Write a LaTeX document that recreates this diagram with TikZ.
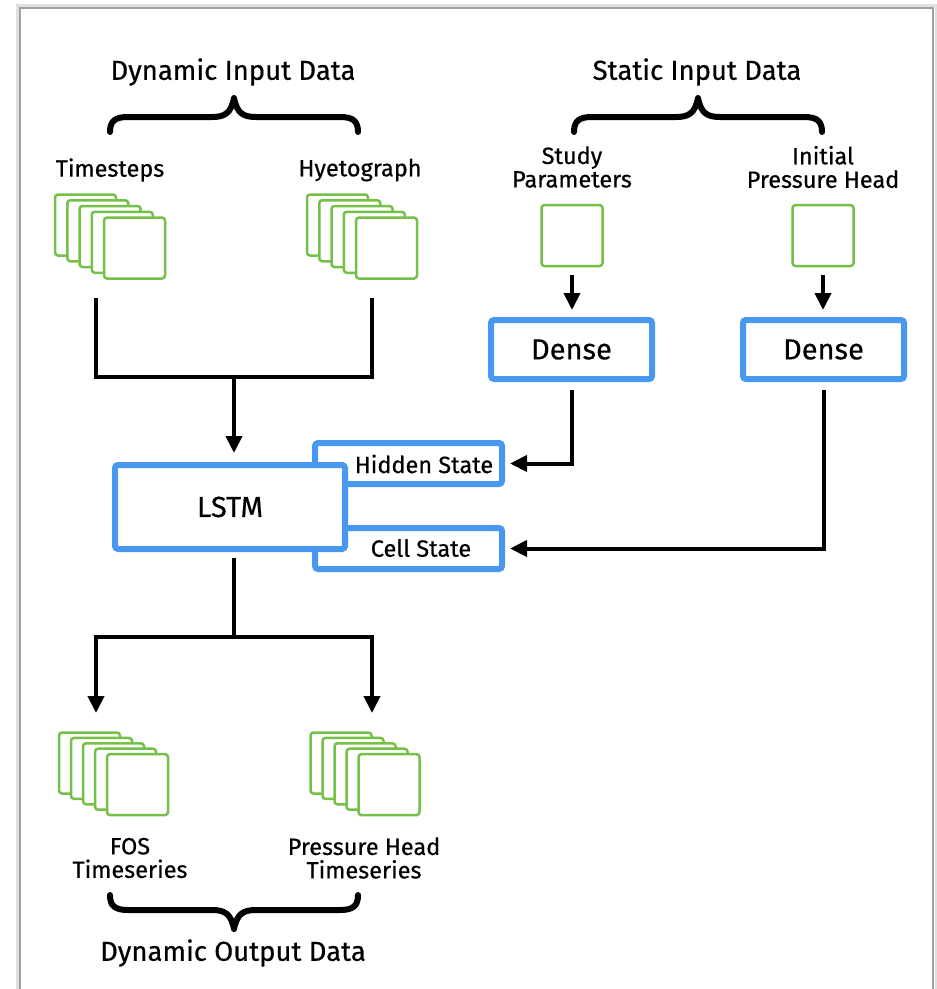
\documentclass[tikz,border=0pt]{standalone}
\usepackage{fontspec}
\setmainfont{Fira Sans}[FakeBold=0.5]
\usetikzlibrary{arrows.meta,calc}

\definecolor{boxblue}{RGB}{72,152,240}
\definecolor{stackgreen}{RGB}{116,192,72}
\definecolor{framegray}{RGB}{160,160,160}

\tikzset{
  bluebox/.style={draw=boxblue, line width=6pt, fill=white, rounded corners=3pt,
    inner sep=0pt, outer sep=0pt},
  greensq/.style={draw=stackgreen, line width=2.5pt, fill=white, rounded corners=3pt,
    minimum width=61pt, minimum height=61pt, inner sep=0pt, outer sep=0pt},
  flow/.style={line width=4pt, black},
  arr/.style={flow, -{Triangle[width=16pt,length=17pt]}},
  bracestroke/.style={line width=6pt, line cap=round, line join=round},
  lbl/.style={font=\fontsize{23.5}{23.5}\selectfont, inner sep=0pt, align=center},
  statelbl/.style={font=\fontsize{23.5}{23.5}\selectfont, inner sep=0pt},
  boxlbl/.style={font=\fontsize{29}{29}\selectfont, inner sep=0pt},
  head/.style={font=\fontsize{27.5}{27.5}\selectfont, inner sep=0pt},
  pics/curlybrace/.style={code={
    \draw[bracestroke] (-124,15) .. controls (-124,4) and (-119,0) .. (-106,0)
      -- (-22,0) .. controls (-9,0) and (-3,-4) .. (0,-19)
      .. controls (3,-4) and (9,0) .. (22,0)
      -- (106,0) .. controls (119,0) and (124,4) .. (124,15);
  }}
}

% stack of five overlapping sheets: name, first centre x, first centre y, step x, step y
\newcommand{\sheetstack}[5]{%
  \foreach \i in {0,...,4}{%
    \node[greensq] (#1-\i) at ({#2+\i*#4},{#3+\i*#5}) {};
  }%
}

\begin{document}
\begin{tikzpicture}[x=1pt,y=-1pt]
\useasboundingbox (0,0) rectangle (937,989);

% page frame
\draw[black!12, line width=3pt] (17,5) rectangle (936,995);
\draw[framegray, line width=1.4pt] (20,8) rectangle (933,992);

% input headers and braces
\node[head] (dynin) at (233,72) {Dynamic Input Data};
\node[head] (statin) at (697,72) {Static Input Data};
\pic at (234,117) {curlybrace};
\pic at (698,117) {curlybrace};

% dynamic inputs
\node[lbl] (tslbl) at (110,170) {Timesteps};
\node[lbl] (hylbl) at (360,170) {Hyetograph};
\sheetstack{ts}{85.5}{225}{12.25}{5.75}
\sheetstack{hy}{337.5}{225}{12.25}{5.75}

% static inputs
\node[lbl] (splbl) at (572,167) {Study\\Parameters};
\node[lbl] (iplbl) at (823,167) {Initial\\Pressure Head};
\node[greensq] (sp) at (572,235.5) {};
\node[greensq] (ip) at (823,235.5) {};

% dense layers
\node[bluebox, minimum width=161pt, minimum height=59pt] (d1) at (571.5,349.5) {};
\node[boxlbl] at (d1.center) {Dense};
\node[bluebox, minimum width=161pt, minimum height=59pt] (d2) at (823.5,349.5) {};
\node[boxlbl] at (d2.center) {Dense};

% LSTM with its state inputs
\node[bluebox, minimum width=187pt, minimum height=41pt] (hid) at (408.5,463.5) {};
\node[bluebox, minimum width=187pt, minimum height=41pt] (cell) at (408.5,548.5) {};
\node[statelbl] (hidlbl) at (424,464) {Hidden State};
\node[statelbl] (celllbl) at (421,548) {Cell State};
\node[bluebox, minimum width=230pt, minimum height=84pt] (lstm) at (230,507) {};
\node[boxlbl] (lstmlbl) at (lstm.center) {LSTM};

% dynamic outputs
\sheetstack{fos}{89.5}{763}{12}{5.4}
\sheetstack{ph}{341}{763}{12}{5.4}
\node[lbl] (foslbl) at (130,858) {FOS\\Timeseries};
\node[lbl] (phlbl) at (364,858) {Pressure Head\\Timeseries};
\pic[yscale=-1] at (234,910) {curlybrace};
\node[head] (dynout) at (233,953) {Dynamic Output Data};

% connectors
\coordinate (tsout) at (96,298);
\coordinate (hyout) at (372,298);
\coordinate (inmerge) at (234,377);
\draw[flow] (tsout) |- (inmerge) -| (hyout);
\draw[arr, shorten >=12pt] (inmerge) -- (inmerge |- lstm.north);

\draw[arr, shorten <=9pt, shorten >=10pt] (sp.south) -- (d1.north -| sp.south);
\draw[arr, shorten <=9pt, shorten >=10pt] (ip.south) -- (d2.north -| ip.south);

\draw[arr, shorten <=11pt, shorten >=8pt] (d1.south) |- (hid.east);
\draw[arr, shorten <=11pt, shorten >=8pt] (d2.south) |- (cell.east);

\coordinate (outmerge) at (234,637);
\coordinate (fosin) at (96,713);
\coordinate (phin) at (372,713);
\draw[flow, shorten <=9pt] (lstm.south -| outmerge) -- (outmerge);
\draw[arr] (outmerge) -| (fosin);
\draw[arr] (outmerge) -| (phin);
\end{tikzpicture}
\end{document}
